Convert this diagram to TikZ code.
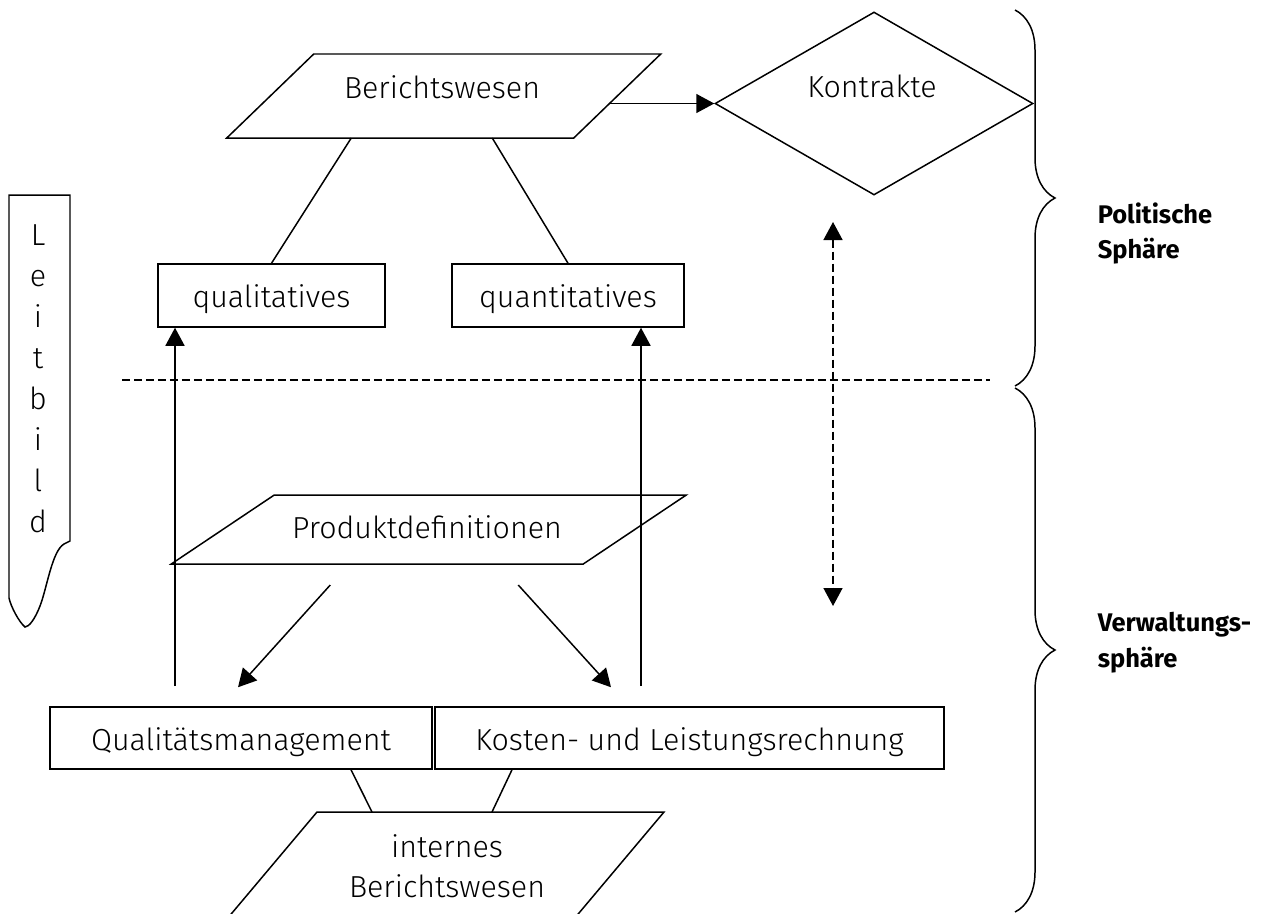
\documentclass[tikz,border=0pt]{standalone}
\usepackage{fontspec}
\setmainfont{Fira Sans Light}[BoldFont={Fira Sans Bold}]
\usetikzlibrary{positioning,calc,shapes.geometric,arrows.meta,decorations.pathreplacing}
\def\px{0.02cm}
\newcommand{\boxnode}[6]{\node[draw,rectangle,minimum width=#4*\px,minimum height=#5*\px,inner sep=0pt,text height=0.5cm,text depth=0.02cm,font=\fontsize{17.3}{20}\selectfont] (#3) at (#1,#2) {#6};}
\newcommand{\datashape}[6]{\draw (#1-#4/2+#6/2,#2-#5/2) -- (#1+#4/2+#6/2,#2-#5/2) -- (#1+#4/2-#6/2,#2+#5/2) -- (#1-#4/2-#6/2,#2+#5/2) -- cycle;
	\coordinate (#3 top) at (#1+#6/2,#2-#5/2);
	\coordinate (#3 bottom) at (#1-#6/2,#2+#5/2);
	\coordinate (#3 right) at (#1+#4/2,#2);}

\begin{document}
\begin{tikzpicture}[x=\px,y=-\px,line width=0.85pt,>={Triangle[length=0.36cm,width=0.38cm]},
	txt/.style={font=\fontsize{17.3}{20}\selectfont,inner sep=0pt,anchor=base},
	sphere/.style={font=\fontsize{14.5}{20}\selectfont\bfseries,inner sep=0pt,anchor=base west},
	sepline/.style={dash pattern=on 0.16cm off 0.08cm}]
				\useasboundingbox (0,0) rectangle (1273,913);
				\clip (0,0) rectangle (1273,913);

				\datashape{443.75}{96}{ber}{347}{84}{87}
				\node[txt] (bertext) at (442,98) {Berichtswesen};
				\node[draw,diamond,minimum width=318*\px,minimum height=183*\px,inner sep=0pt] (kon) at (874,103.5) {};
				\node[txt] (kontext) at (872,97) {Kontrakte};
				\boxnode{271.5}{295.5}{qual}{227}{63}{qualitatives}
				\boxnode{568}{295.5}{quant}{232}{63}{quantitatives}

				\datashape{428.75}{529.5}{prod}{412}{69}{103}
				\node[txt] (prodtext) at (427,538) {Produktdefinitionen};
				\boxnode{241}{738}{qm}{382}{62}{Qualitätsmanagement}
				\boxnode{689.5}{738}{klr}{509}{62}{Kosten- und Leistungsrechnung}
				\datashape{440}{872}{intern}{347}{120}{101}
				\node[txt] (interntext) at (447,857) {internes};
				\node[txt] (interntext2) at (447,897) {Berichtswesen};

				\draw (9,195) -- (70,195) -- (70,541) -- (64,544) .. controls (52,551) and (47,588) .. (40,606) .. controls (35,619) and (29,627) .. (25,627) .. controls (19,622) and (11,607) .. (9,598) -- cycle;
				\foreach \ch [count=\i from 0] in {L,e,i,t,b,i,l,d}
					\node[txt] (leit\i) at (38,245+41*\i) {\ch};

				\coordinate (sepleft) at (122,380);
				\coordinate (sepright) at (990,380);
				\coordinate (upper) at (833,222);
				\coordinate (lower) at (833,606);
				\coordinate (qmup) at (175,686);
				\coordinate (klrup) at (641,686);

				\draw[->] ($(ber right)+(-7.5,7.5)$) -- (kon.west);
				\draw ($(ber bottom)+(-49,0)$) -- (qual.north);
				\draw ($(ber bottom)+(92,0)$) -- (quant.north);
				\draw[->] (qmup) -- (qmup |- qual.south);
				\draw[->] (klrup) -- (klrup |- quant.south);
				\draw[->] ($(prod bottom)+(-47,21)$) -- ($(qm.north)+(-3,-19)$);
				\draw[->] ($(prod bottom)+(141,21)$) -- ($(klr.north)+(-78.5,-19)$);
				\draw ($(qm.south)+(110,0)$) -- ($(intern top)+(-118.5,0)$);
				\draw ($(klr.south)+(-177.5,0)$) -- ($(intern top)+(1.5,0)$);
				\draw[sepline] (sepleft) -- (sepright);
				\draw[sepline,<->] (upper) -- (lower);

				\draw[decorate,decoration={brace,amplitude=0.8cm}] (1015,10) -- (1015,386);
				\draw[decorate,decoration={brace,amplitude=0.8cm}] (1015,388) -- (1015,912);
				\node[sphere] (pol1) at (1097,223) {Politische};
				\node[sphere] (pol2) at (1097,258) {Sphäre};
				\node[sphere] (verw1) at (1097,631) {Verwaltungs-};
				\node[sphere] (verw2) at (1097,667) {sphäre};
			\end{tikzpicture}
\end{document}
